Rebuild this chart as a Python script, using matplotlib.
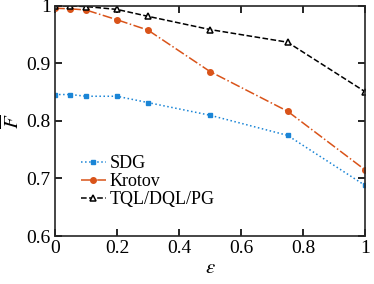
import matplotlib
matplotlib.use("Agg")
import matplotlib.pyplot as plt

plt.rcParams['font.family'] = 'Liberation Serif'
plt.rcParams['mathtext.fontset'] = 'stix'

eps = [0, 0.05, 0.1, 0.2, 0.3, 0.5, 0.75, 1.0]
sdg = [0.846, 0.846, 0.843, 0.843, 0.832, 0.810, 0.775, 0.688]
krotov = [0.996, 0.995, 0.993, 0.976, 0.958, 0.886, 0.817, 0.715]
tql = [1.0, 1.0, 0.999, 0.994, 0.982, 0.959, 0.937, 0.851]

fig, ax = plt.subplots(figsize=(3.74, 2.84), dpi=100)
fig.subplots_adjust(left=0.147, right=0.976, top=0.979, bottom=0.169)

ax.plot(eps, sdg, ':', color='#1a85d6', marker='s', ms=3, lw=1.1, label='SDG')
ax.plot(eps, krotov, '-.', color='#d95319', marker='o', ms=4, lw=1.1, label='Krotov')
ax.plot(eps, tql, '--', color='black', marker='^', ms=4.5, mfc='white', mew=1.1, lw=1.1,
        label='TQL/DQL/PG')

ax.set_xlim(0, 1)
ax.set_ylim(0.6, 1)
ax.set_xticks([0, 0.2, 0.4, 0.6, 0.8, 1])
ax.set_xticklabels(['0', '0.2', '0.4', '0.6', '0.8', '1'])
ax.set_yticks([0.6, 0.7, 0.8, 0.9, 1])
ax.set_yticklabels(['0.6', '0.7', '0.8', '0.9', '1'])
ax.tick_params(direction='in', top=True, right=True, labelsize=14, length=5, width=1.2, pad=3)
for s in ax.spines.values():
    s.set_linewidth(1.2)
    s.set_color('#262626')
ax.set_xlabel(r'$\epsilon$', fontsize=15, labelpad=1)
ax.set_ylabel(r'$\overline{F}$', fontsize=15, labelpad=2)

ax.legend(loc='lower left', bbox_to_anchor=(0.06, 0.09), frameon=False, fontsize=13,
          handlelength=1.4, handletextpad=0.2, labelspacing=0.05, borderaxespad=0)

fig.savefig('out.png')
